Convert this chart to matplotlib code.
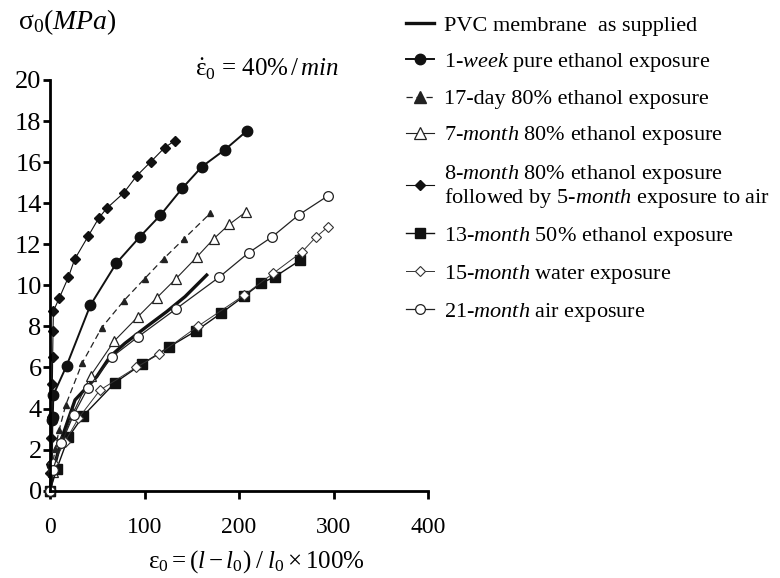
import matplotlib
matplotlib.use("Agg")
import matplotlib.pyplot as plt

plt.rcParams['font.family'] = ['Liberation Serif', 'DejaVu Serif']
plt.rcParams['mathtext.fontset'] = 'custom'
plt.rcParams['mathtext.rm'] = 'Liberation Serif'
plt.rcParams['mathtext.it'] = 'Liberation Serif:italic'

# strain (%) and stress (MPa) for each membrane condition
pvc_x = [0, 3.5, 12.4, 26.5, 49.4, 63.5, 79.4, 102.3, 123.5, 142.9, 165.8]
pvc_y = [0, 1.0, 2.55, 4.42, 5.55, 6.53, 7.18, 7.99, 8.72, 9.45, 10.5]

week_x = [0, 2, 2.5, 3.0, 3.5, 17.6, 42.7, 70.2, 95.2, 116.7, 140, 160.8, 185.2, 208.8]
week_y = [0, 1.24, 3.44, 3.6, 4.66, 6.09, 9.03, 11.08, 12.37, 13.41, 14.73, 15.78, 16.61, 17.54]

day17_x = [0, 2, 5.3, 9.7, 16.6, 33.9, 54.7, 78.3, 100.2, 120.3, 142.1, 169.6]
day17_y = [0, 1.0, 2.02, 2.95, 4.17, 6.2, 7.94, 9.26, 10.33, 11.3, 12.28, 13.51]

m7_x = [0, 3, 12, 24.7, 43, 68, 92.8, 112.9, 133, 155.2, 173.5, 189.7, 207.7]
m7_y = [0, 0.9, 2.4, 3.8, 5.6, 7.29, 8.46, 9.39, 10.31, 11.37, 12.28, 12.97, 13.59]

m8_x = [0, 0.5, 1.0, 1.5, 2.0, 2.5, 2.8, 3.2, 3.6, 9.8, 19.4, 26.1, 40.5, 51.5, 60, 78,
        91.7, 106.9, 121.4, 132.3]
m8_y = [0, 0.85, 1.3, 2.55, 3.6, 5.2, 6.5, 7.8, 8.75, 9.38, 10.39, 11.27, 12.4, 13.27,
        13.75, 14.5, 15.33, 16.03, 16.71, 17.05]

m13_x = [0, 7, 19.4, 35.2, 68.8, 97.4, 126.3, 154.5, 181, 205.6, 223.3, 238.1, 264.6]
m13_y = [0, 1.04, 2.6, 3.65, 5.26, 6.17, 7.01, 7.78, 8.64, 9.48, 10.1, 10.42, 11.22]

m15_x = [0, 3.5, 15.9, 30, 52.9, 91, 115.7, 156.9, 205.6, 236.3, 266.9, 281.2, 294.5]
m15_y = [0, 1.33, 2.39, 3.52, 4.9, 6.0, 6.66, 8.02, 9.53, 10.59, 11.64, 12.34, 12.86]

m21_x = [0, 3, 12, 25, 40, 65.9, 93.4, 133, 178.8, 210.3, 235.3, 263.5, 294.5]
m21_y = [0, 1.0, 2.3, 3.7, 5.0, 6.53, 7.5, 8.84, 10.39, 11.59, 12.37, 13.44, 14.37]

labels = [
    'PVC membrane  as supplied',
    r'1-$\mathit{week}$ pure ethanol exposure',
    '17-day 80% ethanol exposure',
    r'7-$\mathit{month}$ 80% ethanol exposure',
    r'8-$\mathit{month}$ 80% ethanol exposure' + '\n' + r'followed by 5-$\mathit{month}$ exposure to air',
    r'13-$\mathit{month}$ 50% ethanol exposure',
    r'15-$\mathit{month}$ water exposure',
    r'21-$\mathit{month}$ air exposure',
]

fig = plt.figure(figsize=(7.8, 5.78), dpi=100)
ax = fig.add_axes([50 / 780, (578 - 490.7) / 578, 378 / 780, 410.7 / 578])

kw = dict(clip_on=False)
ax.plot(pvc_x, pvc_y, color='#111111', lw=2.4, label=labels[0], **kw)
ax.plot(week_x, week_y, color='#111111', lw=1.4, marker='o', ms=7.5, label=labels[1], **kw)
ax.plot(day17_x, day17_y, color='#222222', lw=0.9, ls=(0, (5, 3)), marker='^', ms=4.5,
        label=labels[2], **kw)
ax.plot(m7_x, m7_y, color='#222222', lw=0.8, marker='^', ms=6.5, mfc='white', mew=0.9,
        label=labels[3], **kw)
ax.plot(m8_x, m8_y, color='#111111', lw=0.8, marker='D', ms=5, label=labels[4], **kw)
ax.plot(m13_x, m13_y, color='#111111', lw=1.0, marker='s', ms=6.5, label=labels[5], **kw)
ax.plot(m15_x, m15_y, color='#333333', lw=0.7, marker='D', ms=5, mfc='white', mew=0.8,
        label=labels[6], **kw)
ax.plot(m21_x, m21_y, color='#222222', lw=0.9, marker='o', ms=7, mfc='white', mew=0.9,
        label=labels[7], **kw)

ax.set_xlim(0, 400)
ax.set_ylim(0, 20)
ax.set_xticks([0, 100, 200, 300, 400])
ax.set_yticks(range(0, 21, 2))
for s in ['top', 'right']:
    ax.spines[s].set_visible(False)
for s in ['left', 'bottom']:
    ax.spines[s].set_linewidth(2)
ax.tick_params(axis='x', direction='out', length=6, width=2, labelsize=17, pad=13)
ax.tick_params(axis='y', direction='out', length=5, width=2, labelsize=19, pad=1)

fig.text(18 / 780, 1 - 22 / 578, r'σ$_0$($\mathit{MPa}$)', fontsize=20, va='center', ha='left')
fig.text(195 / 780, 1 - 69 / 578,
         r'$\dot{\mathrm{\varepsilon}}_0$ = 40%$\,/\,\mathit{min}$', fontsize=18,
         va='center', ha='left')
fig.text(148 / 780, 1 - 562 / 578,
         r'$\mathrm{\varepsilon}_0 = (\mathit{l} - \mathit{l}_0)\;/\;\mathit{l}_0 \times 100\%$',
         fontsize=18, va='center', ha='left')

leg = fig.legend(loc='upper left', bbox_to_anchor=(406 / 780, 1 - 15 / 578), frameon=False,
                 fontsize=16, borderpad=0, borderaxespad=0, handlelength=1.25,
                 handletextpad=0.45, labelspacing=0.68)
leg.get_texts()[4].set_linespacing(1.0)
leg.legend_handles[2].set_markersize(9)
leg.legend_handles[3].set_markersize(8)

fig.savefig('out.png', dpi=100)
